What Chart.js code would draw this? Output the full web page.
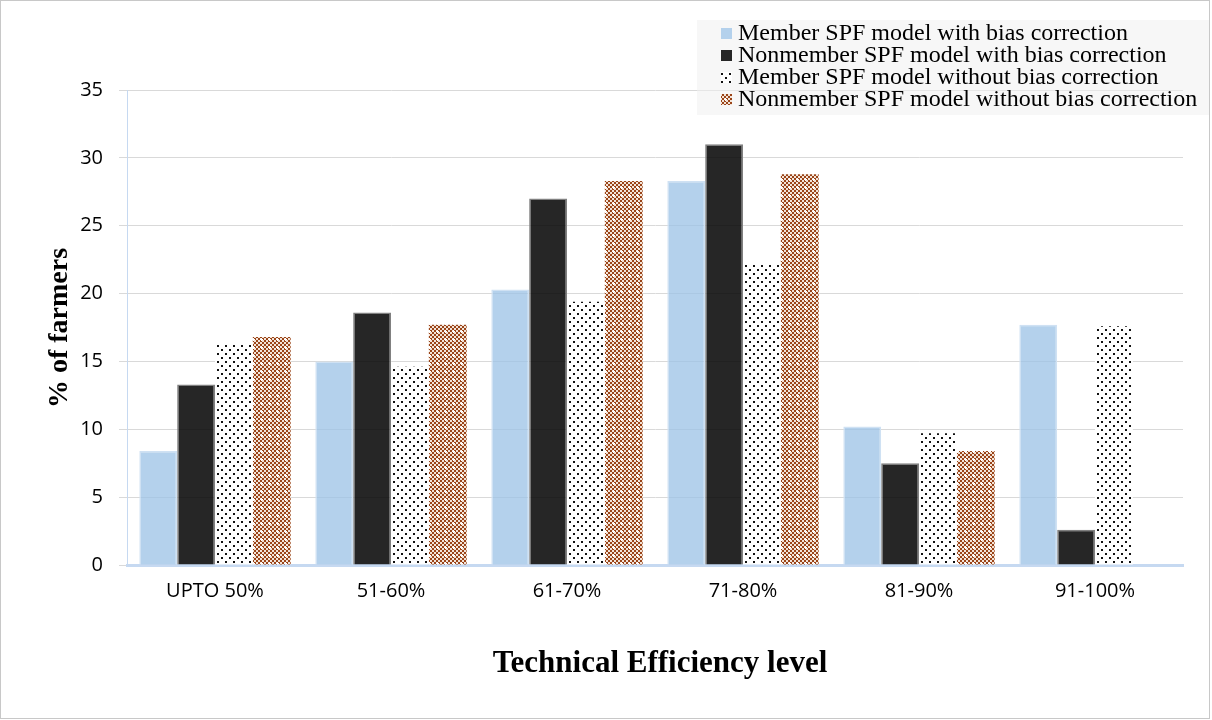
<!DOCTYPE html>
<html>
<head>
<meta charset="utf-8">
<script src="https://cdn.jsdelivr.net/npm/chart.js@4.4.1/dist/chart.umd.min.js"></script>
<style>
  html, body { margin: 0; padding: 0; background: #fff; }
  #wrap { width: 1212px; height: 720px; }
</style>
</head>
<body>
<div id="wrap"><canvas id="barChart" width="1212" height="720"></canvas></div>
<script>
const categories = ["UPTO 50%", "51-60%", "61-70%", "71-80%", "81-90%", "91-100%"];
const memberWithBias = [8.4, 15.0, 20.3, 28.3, 10.2, 17.7];
const nonmemberWithBias = [13.3, 18.6, 27.0, 31.0, 7.5, 2.6];
const memberWithoutBias = [16.3, 14.6, 19.4, 22.1, 9.7, 17.6];
const nonmemberWithoutBias = [16.8, 17.7, 28.3, 28.8, 8.4, 0];
const seriesLabels = [
  "Member SPF model with bias correction",
  "Nonmember SPF model with bias correction",
  "Member SPF model without bias correction",
  "Nonmember SPF model without bias correction",
];

// little tiles for the two patterned series
function dotPattern() {
  const c = document.createElement("canvas");
  c.width = 8; c.height = 8;
  const g = c.getContext("2d");
  g.fillStyle = "#fff";
  g.fillRect(0, 0, 8, 8);
  g.fillStyle = "#111";
  g.fillRect(1, 1, 2, 2);
  g.fillRect(5, 5, 2, 2);
  return g.createPattern(c, "repeat");
}

function checkPattern() {
  const c = document.createElement("canvas");
  c.width = 8; c.height = 8;
  const g = c.getContext("2d");
  g.fillStyle = "#f3e4d8";
  g.fillRect(0, 0, 8, 8);
  g.fillStyle = "#9a4418";
  for (let i = 0; i < 4; i++) {
    for (let j = 0; j < 4; j++) {
      if ((i + j) % 2 === 0) g.fillRect(i * 2, j * 2, 2, 2);
    }
  }
  g.fillStyle = "#fff";
  g.fillRect(5, 2, 1, 3);
  g.fillRect(4, 3, 3, 1);
  return g.createPattern(c, "repeat");
}

const dots = dotPattern();
const checks = checkPattern();

const seriesFill = ["rgba(155,194,230,0.75)", "rgba(0,0,0,0.85)", dots, checks];
const seriesBorder = ["#cfe1f3", "#808080", "rgba(0,0,0,0)", "rgba(0,0,0,0)"];

const frameAndText = {
  id: "frameAndText",
  afterDraw(chart) {
    const ctx = chart.ctx;
    ctx.save();
    // outer frame
    ctx.strokeStyle = "#c8c8c8";
    ctx.lineWidth = 1;
    ctx.strokeRect(0.5, 0.5, 1209, 718);

    // legend box
    ctx.fillStyle = "rgba(240,240,240,0.55)";
    ctx.fillRect(697, 20, 512, 95);
    ctx.font = '24px "Liberation Serif"';
    ctx.textBaseline = "middle";
    ctx.textAlign = "left";
    seriesLabels.forEach((label, i) => {
      const y = 33 + i * 22;
      ctx.fillStyle = "#fff";
      ctx.fillRect(721, y - 5, 11, 11);
      ctx.fillStyle = seriesFill[i];
      ctx.fillRect(721, y - 5, 11, 11);
      ctx.fillStyle = "#000";
      ctx.fillText(label, 738, y + 1);
    });

    // axis titles
    ctx.fillStyle = "#000";
    ctx.textAlign = "center";
    ctx.font = 'bold 31px "Liberation Serif"';
    ctx.fillText("Technical Efficiency level", 660, 664);
    ctx.translate(60, 328);
    ctx.rotate(-Math.PI / 2);
    ctx.font = 'bold 28px "Liberation Serif"';
    ctx.fillText("% of farmers", 0, 0);
    ctx.restore();
  },
};

const ctx = document.getElementById("barChart").getContext("2d");
new Chart(ctx, {
  type: "bar",
  data: {
    labels: categories,
    datasets: [memberWithBias, nonmemberWithBias, memberWithoutBias, nonmemberWithoutBias].map((values, i) => ({
      label: seriesLabels[i],
      data: values,
      backgroundColor: seriesFill[i],
      borderColor: seriesBorder[i],
      borderWidth: i < 2 ? 1.5 : 0,
      categoryPercentage: 0.86,
      barPercentage: 1.0,
    })),
  },
  options: {
    responsive: false,
    animation: false,
    layout: { padding: { top: 90, right: 29, left: 0, bottom: 0 } },
    plugins: {
      legend: { display: false },
      tooltip: { enabled: false },
    },
    scales: {
      x: {
        grid: { display: false, drawTicks: false },
        border: { display: true, color: "#c6d9f1", width: 3 },
        ticks: { color: "#000", padding: 14, font: { family: "Open Sans", size: 20 } },
        afterFit(scale) { scale.height = 155; },
      },
      y: {
        min: 0,
        max: 35,
        ticks: { stepSize: 5, color: "#000", padding: 16, font: { family: "Open Sans", size: 20 } },
        grid: { color: "#d9d9d9", lineWidth: 1, tickLength: 8 },
        border: { display: true, color: "#c6d9f1", width: 1 },
        afterFit(scale) { scale.width = 127; },
      },
    },
  },
  plugins: [frameAndText],
});
</script>
</body>
</html>
